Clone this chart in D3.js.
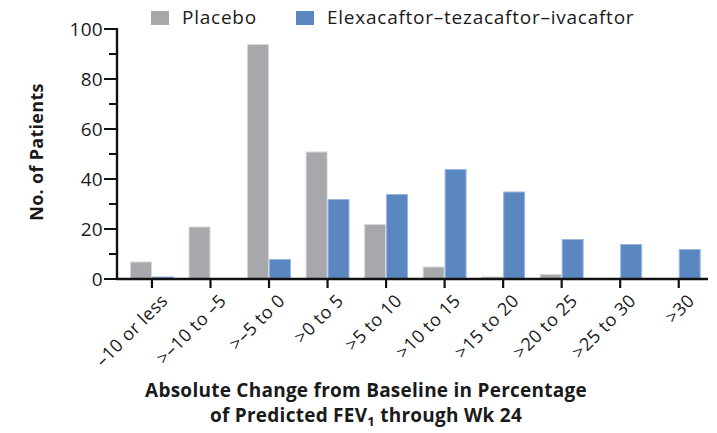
<!DOCTYPE html>
<html>
<head>
<meta charset="utf-8">
<script src="https://cdn.jsdelivr.net/npm/d3@7"></script>
<style>
  html, body { margin: 0; padding: 0; background: #fff; }
  svg { display: block; font-family: "Open Sans", Lato, sans-serif; }
</style>
</head>
<body>
<svg id="chart" width="717" height="433"></svg>
<script>
// Distribution of FEV1 change categories by treatment group
const categories = ["–10 or less", ">–10 to –5", ">–5 to 0", ">0 to 5", ">5 to 10",
  ">10 to 15", ">15 to 20", ">20 to 25", ">25 to 30", ">30"];
const seriesNames = ["Placebo", "Elexacaftor–tezacaftor–ivacaftor"];
const placebo = [7, 21, 94, 51, 22, 5, 1, 2, 0, 0];
const elexacaftor = [1, 0, 8, 32, 34, 44, 35, 16, 14, 12];
const yTicks = [0, 20, 40, 60, 80, 100];
const yMinorTicks = [10, 30, 50, 70, 90];
const colors = ["#a7a8ab", "#5b87c1"];
const strokes = ["#d6d7d9", "#9bb6dc"];

const svg = d3.select("#chart");
const plotLeft = 117, plotBottom = 279, plotTop = 29, plotRight = 708;

const x = d3.scaleBand().domain(categories).range([122.7, plotRight]).paddingInner(0.25).paddingOuter(0.125);
const xs = d3.scaleBand().domain([0, 1]).range([0, x.bandwidth()]);
const y = d3.scaleLinear().domain([0, 100]).range([plotBottom, plotTop]);

const rows = categories.map((c, i) => ({ c, vals: [placebo[i], elexacaftor[i]] }));

// bars
const g = svg.append("g");
g.selectAll("g.grp").data(rows).join("g")
  .attr("class", "grp")
  .attr("transform", d => `translate(${x(d.c)},0)`)
  .selectAll("rect").data(d => d.vals.map((v, k) => ({ v, k })).filter(d => d.v > 0)).join("rect")
  .attr("x", d => xs(d.k) + 0.5)
  .attr("width", xs.bandwidth() - 1)
  .attr("y", d => y(d.v) + 0.5)
  .attr("height", d => Math.max(0, plotBottom - y(d.v) - 0.5))
  .attr("fill", d => colors[d.k])
  .attr("stroke", d => strokes[d.k])
  .attr("stroke-width", 1);

// y axis
const yAxis = svg.append("g").attr("transform", `translate(${plotLeft},0)`);
yAxis.append("line").attr("x1", 0).attr("x2", 0).attr("y1", plotTop - 1).attr("y2", plotBottom + 1)
  .attr("stroke", "#111").attr("stroke-width", 2.4);
yAxis.selectAll("line.maj").data(yTicks).join("line").attr("class", "maj")
  .attr("x1", -13).attr("x2", 0).attr("y1", d => y(d)).attr("y2", d => y(d))
  .attr("stroke", "#111").attr("stroke-width", 2);
yAxis.selectAll("line.min").data(yMinorTicks).join("line").attr("class", "min")
  .attr("x1", -8).attr("x2", 0).attr("y1", d => y(d)).attr("y2", d => y(d))
  .attr("stroke", "#111").attr("stroke-width", 2);
yAxis.selectAll("text").data(yTicks).join("text")
  .attr("x", -14).attr("y", d => y(d)).attr("dy", "0.36em")
  .attr("text-anchor", "end").attr("font-size", 19).attr("letter-spacing", 0.3).attr("fill", "#1a1a1a")
  .text(d => d);

// x axis
const xAxis = svg.append("g");
xAxis.append("line").attr("x1", plotLeft - 1).attr("x2", plotRight).attr("y1", plotBottom).attr("y2", plotBottom)
  .attr("stroke", "#111").attr("stroke-width", 2.4);
xAxis.selectAll("line.tick").data(categories).join("line").attr("class", "tick")
  .attr("x1", d => x(d) + x.bandwidth() / 2).attr("x2", d => x(d) + x.bandwidth() / 2)
  .attr("y1", plotBottom).attr("y2", plotBottom + 9)
  .attr("stroke", "#111").attr("stroke-width", 2.2);
xAxis.selectAll("text").data(categories).join("text")
  .attr("transform", d => `translate(${x(d) + x.bandwidth() / 2 + 8},${plotBottom + 14}) rotate(-45)`)
  .attr("text-anchor", "end").attr("dy", "0.7em").attr("font-size", 18).attr("letter-spacing", 0.4)
  .attr("fill", "#1a1a1a")
  .text(d => d);

// y title
svg.append("text")
  .attr("transform", `translate(43,152) rotate(-90)`)
  .attr("text-anchor", "middle").attr("font-size", 18).attr("font-weight", "bold")
  .attr("letter-spacing", 0.3).attr("fill", "#1a1a1a")
  .text("No. of Patients");

// x title
const xt = svg.append("text").attr("text-anchor", "middle").attr("font-size", 19)
  .attr("font-weight", "bold").attr("letter-spacing", 0.25).attr("fill", "#1a1a1a");
xt.append("tspan").attr("x", 366).attr("y", 397).text("Absolute Change from Baseline in Percentage");
const l2 = xt.append("tspan").attr("x", 366).attr("y", 422);
l2.append("tspan").text("of Predicted FEV");
l2.append("tspan").attr("font-size", 13).attr("dy", 4).text("1");
l2.append("tspan").attr("dy", -4).text(" through Wk 24");

// legend
const legX = [151, 296];
const leg = svg.append("g");
seriesNames.forEach((name, i) => {
  leg.append("rect").attr("x", legX[i]).attr("y", 11).attr("width", 18).attr("height", 14)
    .attr("fill", colors[i]);
  leg.append("text").attr("x", legX[i] + 31).attr("y", 24)
    .attr("font-size", 19).attr("letter-spacing", 0.75).attr("fill", "#1a1a1a").text(name);
});
</script>
</body>
</html>
